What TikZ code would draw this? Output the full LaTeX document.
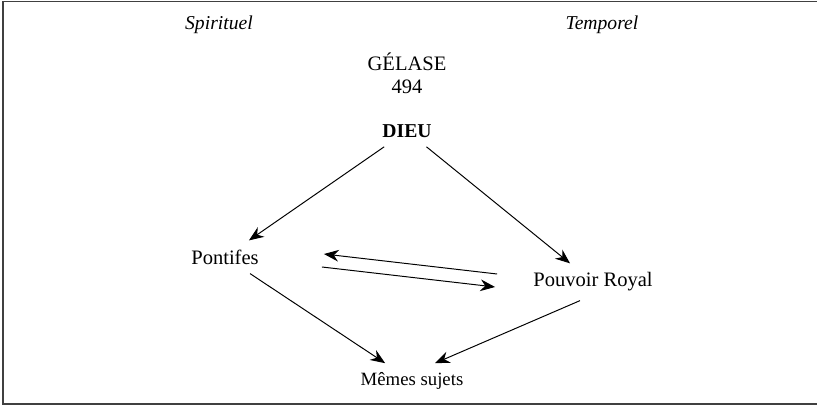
\documentclass[tikz,border=0pt]{standalone}
\usepackage{fontspec}
\setmainfont{Liberation Serif}
\usetikzlibrary{arrows.meta,calc}

\begin{document}
\begin{tikzpicture}[x=0.56pt,y=-0.56pt,
  place/.style={inner sep=5pt, font=\fontsize{11.5}{13}\selectfont},
  side/.style={inner sep=0pt, font=\fontsize{11}{13}\selectfont\itshape},
  arr/.style={-{Stealth[length=2.9mm,width=2.3mm]}, line width=0.55pt}
]
  \useasboundingbox (0,0) rectangle (817,405);
  \draw[line width=0.8pt, black!75] (3,1.5) rectangle (840,404);

  % the two columns
  \node[side] (spirituel) at (219,25) {Spirituel};
  \node[side] (temporel) at (602,25) {Temporel};

  \node[inner sep=0pt, align=center, font=\fontsize{11.5}{13}\selectfont] (gelase) at (407,73) {GÉLASE\\494};
  \node[place, font=\fontsize{11}{12}\selectfont\bfseries] (dieu) at (407,131) {DIEU};

  \node[place] (pontifes) at (225,257) {Pontifes};
  \node[place] (royal) at (593,282) {Pouvoir Royal};
  \node[place, font=\fontsize{10.5}{12}\selectfont] (memes) at (412,381) {Mêmes sujets};

  \draw[arr] (dieu) -- (pontifes);
  \draw[arr] (dieu) -- (royal);
  \draw[arr] ($(royal.west)+(-27,-8)$) -- ($(pontifes.east)+(56,-3)$);
  \draw[arr] ($(pontifes.east)+(54,10)$) -- ($(royal.west)+(-29,5)$);
  \draw[arr] (pontifes) -- (memes);
  \draw[arr] ($(royal.south)+(-13,0)$) -- ($(memes.north)+(23,0)$);
\end{tikzpicture}
\end{document}
